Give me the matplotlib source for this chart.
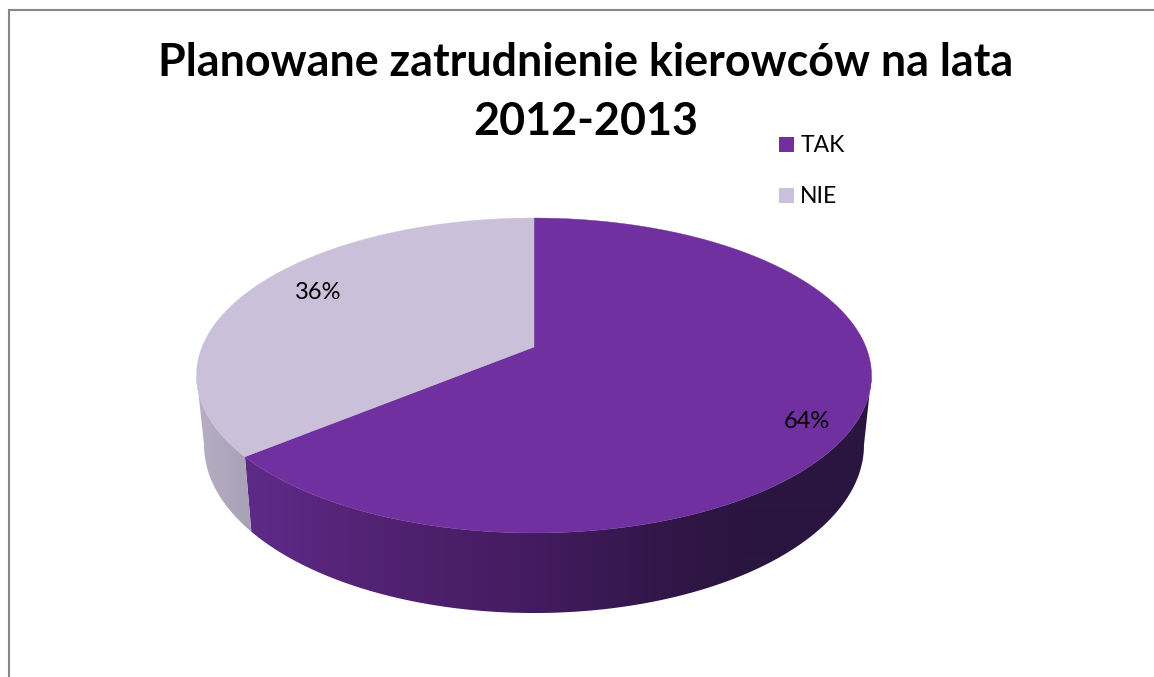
import numpy as np
import matplotlib
matplotlib.use("Agg")
import matplotlib.pyplot as plt
from matplotlib.patches import Polygon, Patch
from matplotlib.colors import to_rgb

title = "Planowane zatrudnienie kierowców na lata\n2012-2013"
categories = ["TAK", "NIE"]
values = [64, 36]
colors = ["#7030A0", "#CAC0D9"]
label_pos = [(806.5, 421.5), (318, 292.5)]

# pie projection, in pixels of the reference
CX, CY, A, B, K = 534.0, 347.0, 331.9, 152.3, 0.181
SIDE_X, SIDE_Y, SIDE_CY = 330 / 337.5, 1.067, 414.6

def top(t):
    d = 1 + K * np.sin(t)
    return CX + A * np.cos(t) / d, CY - B * np.sin(t) / d

def bottom(t):
    d = 1 + K * np.sin(t)
    return CX + SIDE_X * A * np.cos(t) / d, SIDE_CY - SIDE_Y * B * np.sin(t) / d

side_stops = [
    ([251, 400, 534, 650, 740, 870],
     ["#5E2A88", "#50216F", "#441B60", "#33174B", "#2B1540", "#2A1440"]),
    ([200, 251], ["#B6AEC3", "#A8A0B4"]),
]

def gradient(stops):
    xs, cs = stops
    rgb = np.array([to_rgb(c) for c in cs])
    grid = np.arange(1154) + 0.5
    return np.stack([np.interp(grid, xs, rgb[:, i]) for i in range(3)], axis=-1)[None, :, :]

fig = plt.figure(figsize=(11.54, 6.77), dpi=100, facecolor="white")
ax = fig.add_axes([0, 0, 1, 1])
ax.set_xlim(0, 1154)
ax.set_ylim(677, 0)
ax.axis("off")

ax.plot([9, 9, 1154], [677, 10, 10], color="#868686", lw=1.5, solid_joinstyle="miter")

fractions = np.array(values) / sum(values)
edges = np.pi / 2 - 2 * np.pi * np.concatenate([[0], np.cumsum(fractions)])

# visible side walls, shaded left to right
vis_lo, vis_hi = -np.pi + np.arcsin(K), -np.arcsin(K)
for i in range(len(values)):
    hi, lo = edges[i], edges[i + 1]
    a, b = max(lo, vis_lo), min(hi, vis_hi)
    if b <= a:
        continue
    ts = np.linspace(a, b, 300)
    xt, yt = top(ts)
    xb, yb = bottom(ts[::-1])
    wall = Polygon(np.c_[np.r_[xt, xb], np.r_[yt, yb]], closed=True, transform=ax.transData,
                   fc="none", ec="none")
    ax.add_patch(wall)
    im = ax.imshow(gradient(side_stops[i]), extent=(0, 1154, 677, 0), aspect="auto",
                   interpolation="bilinear", zorder=2)
    im.set_clip_path(wall)

ax.set_xlim(0, 1154)
ax.set_ylim(677, 0)

# top face
for i in range(len(values)):
    ts = np.linspace(edges[i], edges[i + 1], 300)
    x, y = top(ts)
    ax.add_patch(Polygon(np.c_[np.r_[CX, x], np.r_[CY, y]], closed=True,
                         fc=colors[i], ec=colors[i], lw=0.3, zorder=3))

for v, (x, y) in zip(values, label_pos):
    ax.text(x, y, f"{v}%", ha="center", va="center", fontsize=17,
            family="Lato", color="black", zorder=5)

ax.text(585.5, 92.5, title, ha="center", va="center", fontsize=32.3, family="Lato",
        fontweight="bold", color="black", linespacing=1.48, zorder=5)

leg = ax.legend(handles=[Patch(fc=c, ec="none", label=l) for c, l in zip(colors, categories)],
                loc="upper left", bbox_to_anchor=(779 / 1154, 1 - 135.5 / 677),
                bbox_transform=fig.transFigure, frameon=False, borderpad=0, borderaxespad=0,
                prop={"family": "Lato", "size": 16.5}, handlelength=0.66, handleheight=0.66,
                handletextpad=0.27, labelspacing=1.3)

fig.savefig("out.png", dpi=100, facecolor="white")
